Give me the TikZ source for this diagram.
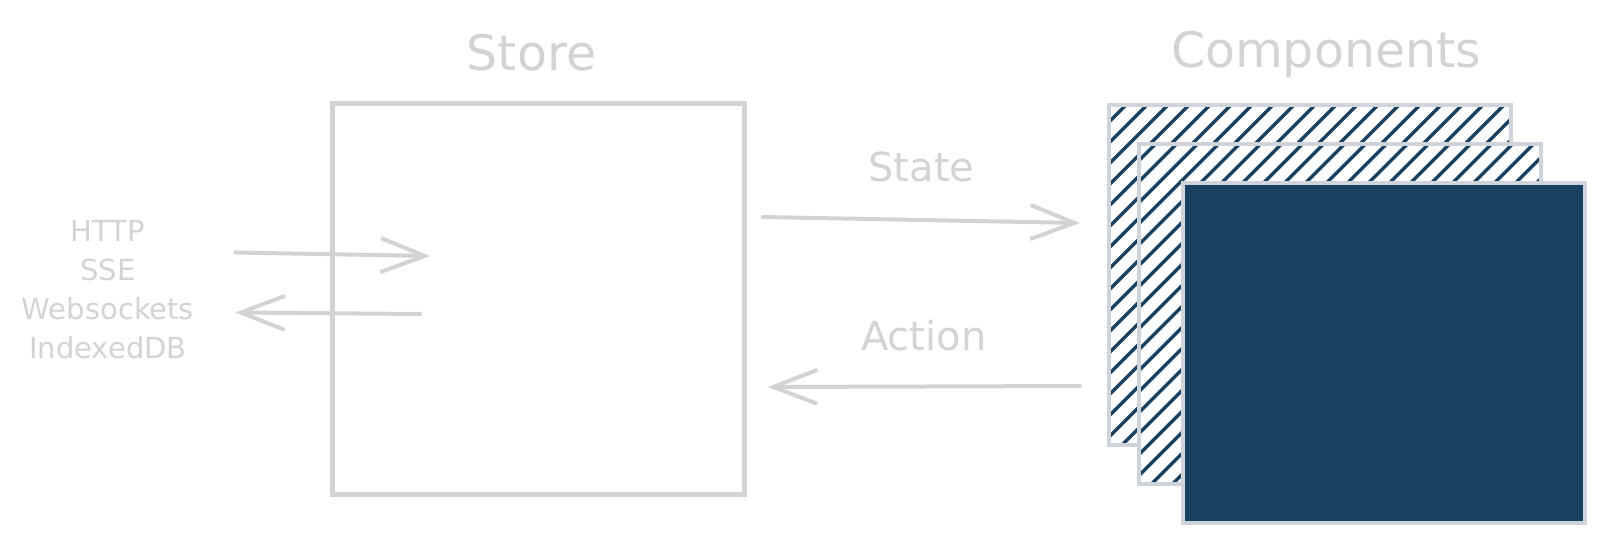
\documentclass[tikz,border=0pt]{standalone}
\usepackage{fontspec}
\setmainfont{DejaVu Sans}
\usetikzlibrary{arrows.meta,positioning,calc}
\definecolor{sketchgray}{HTML}{D3D3D3}
\definecolor{framegray}{HTML}{CED4DA}
\definecolor{compblue}{RGB}{24,64,97}
\tikzstyle{heading}=[text=sketchgray,font=\fontsize{49}{58}\selectfont,inner sep=0pt,text depth=0pt]
\tikzstyle{edgelabel}=[text=sketchgray,font=\fontsize{40}{48}\selectfont,inner sep=0pt,text depth=0pt]
\tikzstyle{proto}=[text=sketchgray,font=\fontsize{29}{39}\selectfont,align=center,inner sep=0pt]
\tikzstyle{storebox}=[draw=sketchgray,line width=4.5pt,minimum width=412pt,minimum height=391pt,inner sep=0pt]
\tikzstyle{stacklayer}=[draw=framegray,line width=4pt,fill=white,minimum width=402pt,minimum height=340pt,inner sep=0pt]
\tikzstyle{hatch}=[compblue,line width=3.3pt]
\tikzstyle{hatched}=[path picture={\foreach \k in {0,...,36} \draw[hatch] ([xshift=\k*21pt-344pt]path picture bounding box.south west) -- ++(344,-344);}]
\tikzstyle{flow}=[draw=sketchgray,line width=4pt,line cap=round,-{Straight Barb[length=44pt,width=34pt]}]

\begin{document}
\begin{tikzpicture}[x=1pt,y=-1pt]
\useasboundingbox (0,0) rectangle (1605,546);

\node[storebox] (store) at (538.5,299) {};
\node[heading, above=31pt of store, xshift=-7pt] (storetitle) {Store};

    % stacked component layers
    \foreach \pos/ \name in {{(1310,275)/compback},{(1340,313.5)/compmid}}
        \node[stacklayer,hatched] (\name) at \pos {};
    \node[stacklayer,fill=compblue] (compfront) at (1383.5,353) {};
\node[heading, above=35pt of compback, xshift=16pt] (comptitle) {Components};

\node[proto, anchor=north] (protocols) at (108,220) {HTTP\\SSE\\Websockets\\IndexedDB};

    % data flow
    \draw[flow] ([shift={(16pt,82pt)}]store.east) -- node[edgelabel, above=37pt] (statelabel) {State} ([shift={(-27pt,52pt)}]compback.west);
    \draw[flow] ([shift={(-27pt,-111pt)}]compback.west) -- node[edgelabel, above=34pt] (actionlabel) {Action} ([shift={(21pt,-88pt)}]store.east);

    \draw[flow] ([shift={(41pt,37pt)}]protocols.east) -- ([shift={(100pt,43pt)}]store.west);
    \draw[flow] ([shift={(90pt,-15pt)}]store.west) -- ([shift={(41pt,-23pt)}]protocols.east);

\end{tikzpicture}
\end{document}
